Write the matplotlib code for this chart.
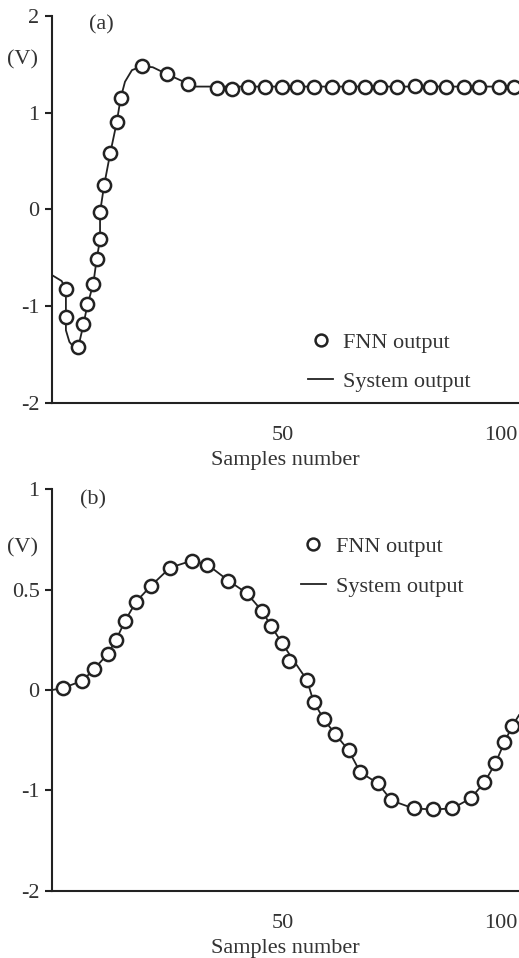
import numpy as np
import matplotlib
matplotlib.use("Agg")
import matplotlib.pyplot as plt

plt.rcParams['font.family'] = ['Liberation Serif', 'DejaVu Serif']
plt.rcParams['font.size'] = 16

# (a) FNN output points
a_fnn_x = [0.0, 0.0, 2.86, 3.87, 4.93, 6.3, 7.1, 7.86, 7.86, 8.8, 10.2, 11.7, 12.6,
           17.5, 23.2, 28.1, 34.7, 38.2, 42.0, 45.9, 49.7, 53.2, 57.0, 61.2, 65.1,
           68.9, 72.4, 76.2, 80.4, 83.9, 87.4, 91.6, 95.0, 99.6, 103.1]
a_fnn_y = [-0.82, -1.11, -1.42, -1.19, -0.98, -0.77, -0.51, -0.31, -0.03, 0.25, 0.58, 0.90, 1.15,
           1.48, 1.40, 1.30, 1.26, 1.24, 1.27, 1.27, 1.27, 1.27, 1.27, 1.27, 1.27,
           1.27, 1.27, 1.27, 1.28, 1.27, 1.27, 1.27, 1.27, 1.27, 1.27]
# (a) system output curve
a_sys_x = [-3.2, -1.0, 0.0, 0.0, 0.0, 0.8, 1.9, 2.86, 3.9, 4.9, 6.3, 7.1, 7.86, 7.86, 8.8,
           10.2, 11.7, 12.6, 13.6, 15.2, 17.5, 20.0, 23.2, 28.1, 29.5, 34.7, 60.0, 104.3]
a_sys_y = [-0.68, -0.74, -0.82, -1.11, -1.25, -1.37, -1.43, -1.42, -1.22, -1.0, -0.77, -0.51, -0.31, -0.03, 0.25,
           0.58, 0.90, 1.15, 1.32, 1.44, 1.48, 1.47, 1.40, 1.30, 1.27, 1.27, 1.27, 1.27]

# (b) FNN output points
b_fnn_x = [-0.73, 3.78, 6.48, 9.63, 11.55, 13.62, 16.15, 19.61, 23.99, 29.06, 32.58, 37.42,
           41.62, 45.19, 47.19, 49.73, 51.25, 55.49, 57.01, 59.36, 62.01, 65.07, 67.77, 71.85,
           74.91, 80.05, 84.59, 88.90, 93.18, 96.34, 98.87, 100.95, 102.72]
b_fnn_y = [0.01, 0.046, 0.104, 0.18, 0.25, 0.345, 0.44, 0.52, 0.61, 0.645, 0.625, 0.545,
           0.483, 0.393, 0.32, 0.235, 0.146, 0.05, -0.116, -0.29, -0.44, -0.60, -0.82, -0.93,
           -1.10, -1.18, -1.19, -1.18, -1.08, -0.92, -0.73, -0.52, -0.36]
# (b) system output curve
b_sys_x = [-3.2, -0.73, 3.78, 6.48, 9.63, 11.55, 13.62, 16.15, 19.61, 23.99, 29.06, 32.58, 37.42,
           41.62, 45.19, 47.19, 49.73, 52.0, 55.49, 57.01, 59.36, 62.01, 65.07, 67.77, 71.85,
           74.91, 80.05, 84.59, 88.90, 93.18, 96.34, 98.87, 100.95, 102.72, 104.3]
b_sys_y = [0.0, 0.01, 0.046, 0.104, 0.18, 0.25, 0.345, 0.44, 0.52, 0.61, 0.645, 0.625, 0.545,
           0.483, 0.393, 0.32, 0.235, 0.16, 0.05, -0.116, -0.29, -0.44, -0.60, -0.82, -0.93,
           -1.10, -1.18, -1.19, -1.18, -1.08, -0.92, -0.73, -0.52, -0.36, -0.25]

a_yticks = [-2, -1, 0, 1, 2]
a_ylabels = ['-2', '-1', '0', '1', '2']
b_yticks = [-2, -1, 0, 0.5, 1]
b_ylabels = ['-2', '-1', '0', '0.5', '1']
xticks = [50, 100]
xlabels = ['50', '100']

ink = '#222222'
txt = '#333333'


# the (b) axis has 0.5 steps above zero and 1 steps below
def fwd(y):
    y = np.asarray(y, dtype=float)
    return np.where(y < 0, y / 2, y)


def inv(p):
    p = np.asarray(p, dtype=float)
    return np.where(p < 0, p * 2, p)


fig = plt.figure(figsize=(5.19, 9.58), dpi=100)
ax1 = fig.add_axes([0.1002, 0.5796, 0.8998, 0.4037])
ax2 = fig.add_axes([0.1002, 0.0702, 0.8998, 0.419])


def style(ax, yticks, ylabels):
    for s in ['top', 'right']:
        ax.spines[s].set_visible(False)
    for s in ['left', 'bottom']:
        ax.spines[s].set_linewidth(1.5)
        ax.spines[s].set_color(ink)
    ax.set_xlim(-3.2, 104.3)
    ax.set_xticks(xticks)
    ax.set_xticklabels(xlabels)
    ax.set_yticks(yticks)
    ax.set_yticklabels(ylabels)
    ax.tick_params(axis='x', length=0, pad=17, colors=txt)
    ax.tick_params(axis='y', length=5, width=1.5, pad=4, colors=txt)
    ax.tick_params(axis='y', color=ink)
    ax.set_xlabel('Samples number', labelpad=4, color=txt)


def legend(ax, handles, anchor):
    ax.legend(handles=handles, loc='upper left', bbox_to_anchor=anchor,
              frameon=False, borderpad=0, borderaxespad=0, handlelength=1.15,
              handletextpad=0.45, labelspacing=0.85, markerscale=0.9, labelcolor=txt)


# ----- (a)
fnn1, = ax1.plot(a_fnn_x, a_fnn_y, 'o', ms=9.5, mfc='white', mec=ink, mew=1.8,
                 label='FNN output', zorder=3, clip_on=False)
sys1, = ax1.plot(a_sys_x, a_sys_y, '-', color=ink, lw=1.3, label='System output', zorder=2)
ax1.set_ylim(-2, 2)
style(ax1, a_yticks, a_ylabels)
ax1.text(0.106, 0.976, '(a)', transform=ax1.transAxes, ha='center', va='center', color=txt)
ax1.text(-0.063, 0.8855, '(V)', transform=ax1.transAxes, ha='center', va='center', color=txt)
legend(ax1, [fnn1, sys1], (0.548, 0.183))

# ----- (b)
ax2.set_yscale('function', functions=(fwd, inv))
fnn2, = ax2.plot(b_fnn_x, b_fnn_y, 'o', ms=9.5, mfc='white', mec=ink, mew=1.8,
                 label='FNN output', zorder=3, clip_on=False)
sys2, = ax2.plot(b_sys_x, b_sys_y, '-', color=ink, lw=1.3, label='System output', zorder=2)
ax2.set_ylim(-2, 1)
style(ax2, b_yticks, b_ylabels)
ax2.text(0.087, 0.975, '(b)', transform=ax2.transAxes, ha='center', va='center', color=txt)
ax2.text(-0.063, 0.8537, '(V)', transform=ax2.transAxes, ha='center', va='center', color=txt)
legend(ax2, [fnn2, sys2], (0.5325, 0.882))

fig.savefig('out.png', dpi=100)
